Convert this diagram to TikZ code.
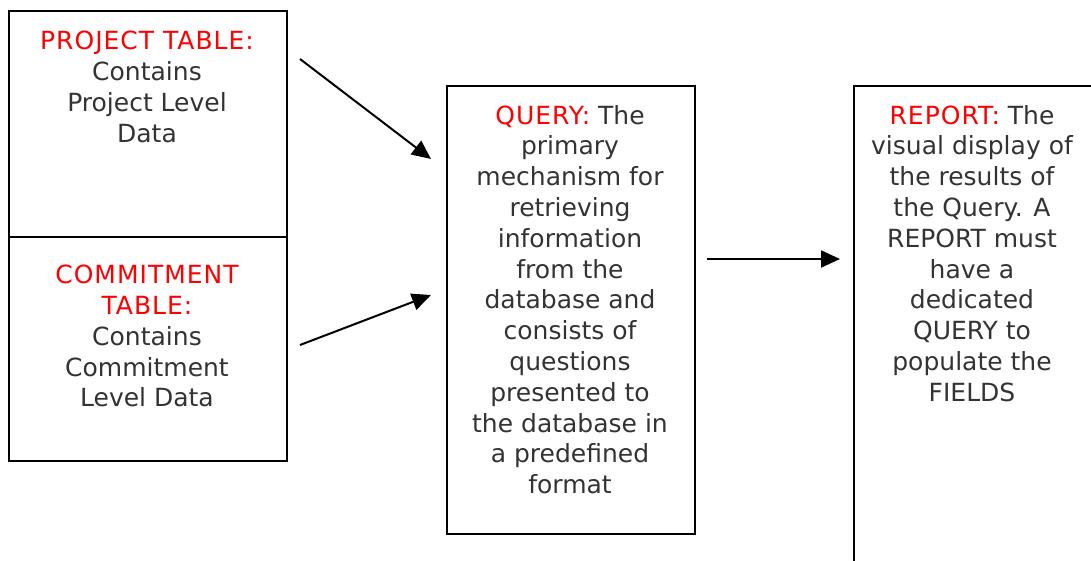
\documentclass[tikz,border=0pt]{standalone}
\usepackage{fontspec}
\setmainfont{DejaVu Sans}
\usetikzlibrary{arrows.meta}
\definecolor{txt}{HTML}{333333}
\definecolor{hdr}{HTML}{FF0000}
\newcommand{\hdrtext}[1]{{\addfontfeature{LetterSpace=4}\textcolor{hdr}{#1}}}
\begin{document}
\begin{tikzpicture}[x=1pt,y=-1pt,
  boxst/.style={draw=black,line width=2.2pt,rectangle,inner sep=0pt,anchor=north west},
  textst/.style={inner sep=0pt,anchor=north,align=center,text=txt,
     font=\fontsize{25}{30.8}\selectfont},
  arr/.style={line width=2pt,-{Triangle[length=19pt,width=17pt]}}]
\useasboundingbox (0,0) rectangle (1091,561);
\node[boxst,minimum width=278pt,minimum height=226pt] (proj) at (8,10) {};
\node[boxst,minimum width=278pt,minimum height=224pt] (comm) at (8,236) {};
\node[boxst,minimum width=248pt,minimum height=448pt] (query) at (446,85) {};
\node[boxst,minimum width=245pt,minimum height=490pt] (report) at (853,85) {};
\node[textst] (projt) at (147,31) {\hdrtext{PROJECT TABLE:}\\Contains\\Project Level\\Data};
\node[textst] (commt) at (147,265) {\hdrtext{COMMITMENT}\\\hdrtext{TABLE:}\\Contains\\Commitment\\Level Data};
\node[textst] (queryt) at (570,105) {\hdrtext{QUERY:}\ The\\primary\\mechanism for\\retrieving\\information\\from the\\database and\\consists of\\questions\\presented to\\the database in\\a predefined\\format};
\node[textst] (reportt) at (972,105) {\hdrtext{REPORT:}\ The\\visual display of\\the results of\\the Query. A\\REPORT must\\have a\\dedicated\\QUERY to\\populate the\\FIELDS};
\coordinate (a1s) at (300,59);
\coordinate (a1e) at (431,159);
\coordinate (a2s) at (300,345);
\coordinate (a2e) at (431,295);
\coordinate (a3s) at (707,259);
\coordinate (a3e) at (840,259);
\draw[arr] (a1s) -- (a1e);
\draw[arr] (a2s) -- (a2e);
\draw[arr] (a3s) -- (a3e);
\end{tikzpicture}
\end{document}
